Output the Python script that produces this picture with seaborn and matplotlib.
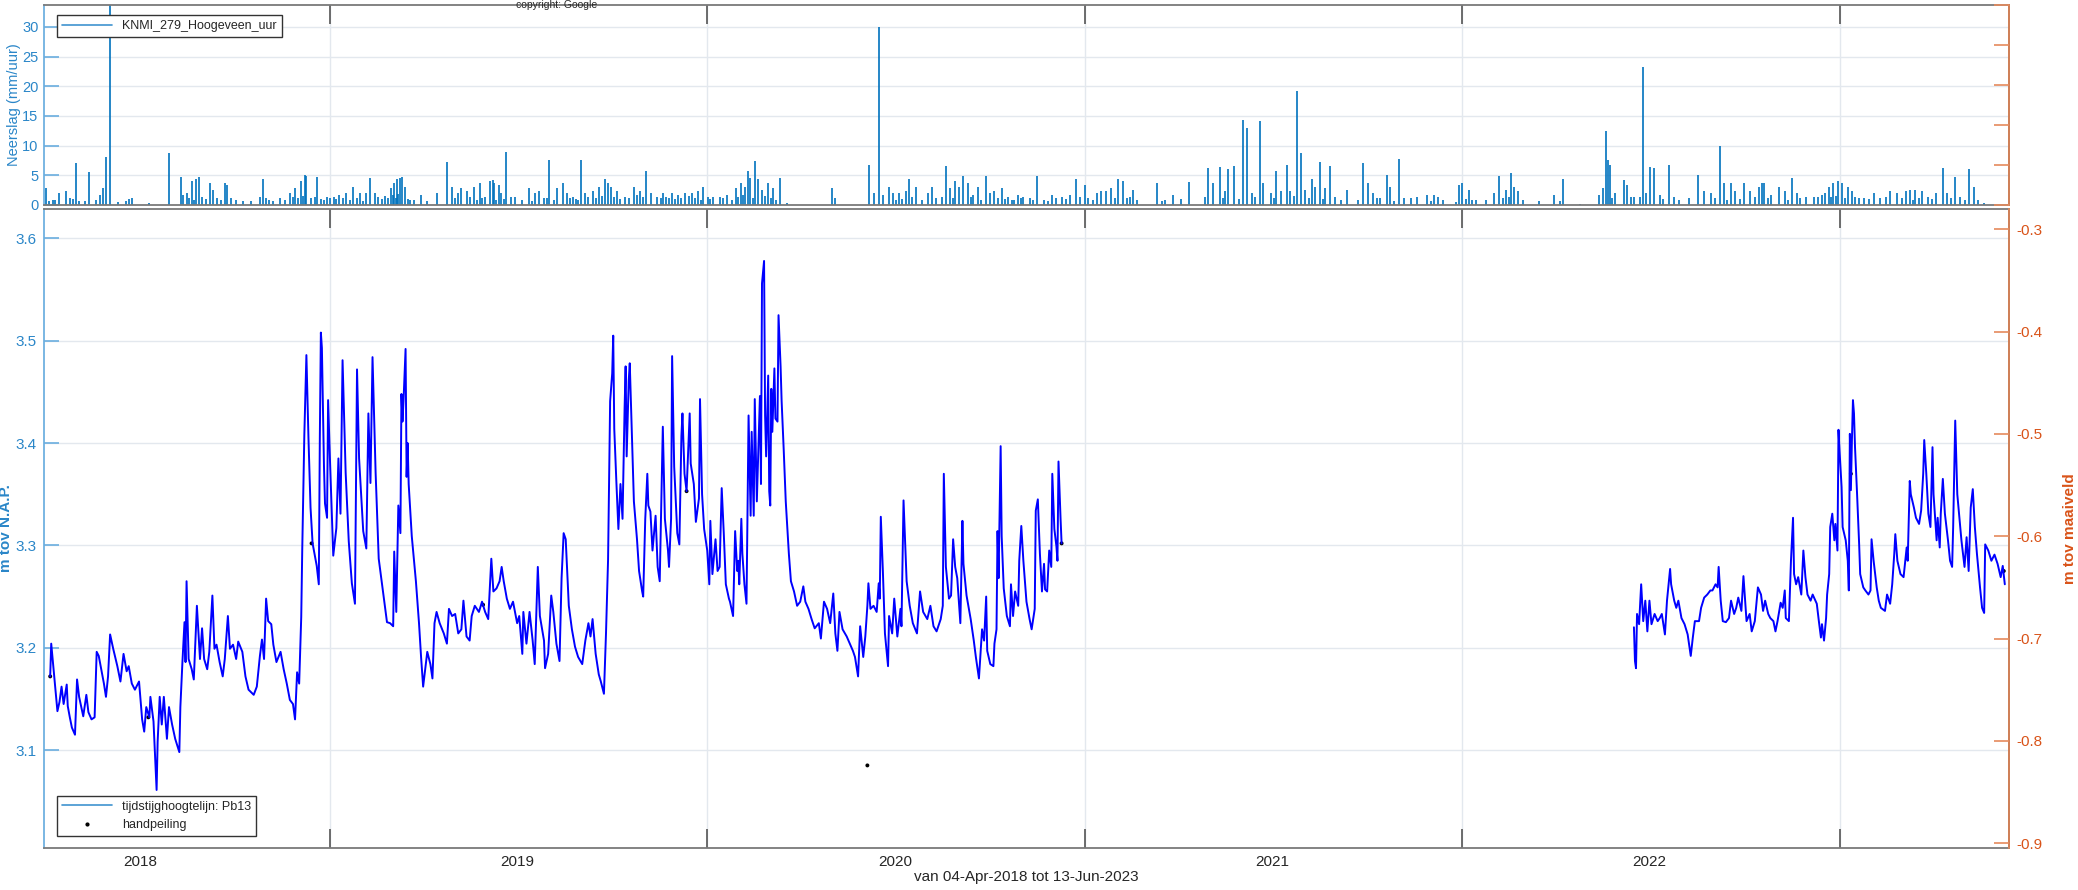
import numpy as np
import pandas as pd
import seaborn as sns
import matplotlib.pyplot as plt
import matplotlib.dates as mdates
from matplotlib.lines import Line2D
from matplotlib.ticker import NullFormatter

# dagnummers t.o.v. 1 jan 2018
start = pd.Timestamp('2018-01-01')

# tijdstijghoogtelijn Pb13 (m NAP), deel 1: apr 2018 - dec 2020
gw_dag_1 = [94, 95, 97, 101, 103, 105, 107, 110, 111, 113,
            115, 118, 120, 122, 126, 129, 131, 134, 137, 139,
            141, 146, 148, 150, 152, 155, 159, 162, 165, 168,
            170, 173, 176, 180, 183, 185, 187, 190, 191, 194,
            197, 198, 200, 202, 204, 207, 209, 212, 215, 219,
            220, 222, 224, 225, 226, 228, 231, 233, 236, 239,
            241, 243, 246, 248, 251, 253, 255, 258, 261, 263,
            266, 268, 271, 274, 276, 280, 283, 286, 291, 294,
            297, 299, 301, 303, 305, 308, 310, 313, 317, 320,
            323, 326, 329, 331, 333, 335, 337, 338, 340, 342,
            344, 346, 348, 352, 354, 355, 356, 357, 359, 360,
            362, 363, 365, 367, 368, 371, 373, 375, 377, 380,
            383, 386, 389, 391, 393, 397, 400, 402, 404, 406,
            409, 412, 416, 420,
            423, 426, 427, 429, 431, 433, 434, 435, 436, 438,
            439, 440, 441, 444, 448, 451, 453, 455, 459, 462,
            464, 466, 468, 471, 475, 478, 480, 483, 486, 489,
            492, 494, 497, 500, 502, 505, 509, 512, 515, 518,
            521, 523, 526, 529, 531, 533, 536, 539, 542, 546,
            548, 551, 552, 555, 558, 561, 563, 566, 568, 572,
            573, 576, 579, 581, 584, 587, 589, 591, 593, 596,
            599, 602, 605, 609, 612, 615, 617, 619, 622, 625,
            627, 630, 632, 634, 636, 638, 639, 640, 642, 644,
            646, 648, 650, 651, 652, 654, 655, 657, 659, 662,
            664, 667, 668, 670, 672, 673, 675, 677, 680, 682,
            684, 687, 689, 692, 693, 695, 696, 698, 701, 703,
            705, 706, 708, 710, 713, 714, 717, 719, 722, 723,
            725, 727, 730, 732, 733, 735, 738, 740, 742, 744,
            746, 748, 751,
            752, 755, 757, 759, 760, 761, 763, 764, 766, 768,
            770, 772, 773, 775, 776, 778, 781, 782, 783, 785,
            786, 787, 789, 790, 791, 792, 793, 795, 796, 798,
            799, 801, 802, 804, 806, 809, 811, 814, 817, 820,
            823, 825, 828, 831, 834, 838, 840, 843, 846, 849,
            852, 854, 856, 858, 861, 865, 868, 871, 873, 876,
            878, 881, 883, 885, 886, 888, 891, 894, 896, 897,
            898, 900, 902, 905, 906, 909, 911, 914, 917, 918,
            920, 923, 926, 929, 933, 936, 939, 943, 946, 949,
            952, 956, 958, 959, 961, 964, 966, 968, 970, 972,
            975, 977, 978, 981, 985, 988, 990, 993, 996, 998,
            1000, 1001, 1004, 1007, 1008, 1010, 1011, 1012, 1014, 1015,
            1017, 1020, 1023, 1024, 1026, 1028, 1031, 1032, 1034, 1036,
            1039, 1042, 1044, 1047, 1048, 1050, 1052, 1054, 1056, 1057,
            1059, 1061, 1063, 1064, 1066, 1068, 1069, 1070, 1072, 1073]
gw_nap_1 = [3.172, 3.204, 3.182, 3.138, 3.147, 3.162, 3.145, 3.164, 3.143, 3.132,
            3.122, 3.115, 3.169, 3.152, 3.133, 3.154, 3.137, 3.130, 3.132, 3.196,
            3.192, 3.165, 3.152, 3.172, 3.213, 3.199, 3.182, 3.167, 3.194, 3.177,
            3.182, 3.165, 3.159, 3.167, 3.130, 3.118, 3.142, 3.132, 3.152, 3.128,
            3.061, 3.108, 3.152, 3.125, 3.152, 3.111, 3.142, 3.125, 3.111, 3.098,
            3.142, 3.186, 3.225, 3.186, 3.265, 3.189, 3.179, 3.169, 3.241, 3.189,
            3.219, 3.189, 3.179, 3.196, 3.251, 3.199, 3.203, 3.186, 3.172, 3.189,
            3.231, 3.199, 3.203, 3.189, 3.206, 3.196, 3.172, 3.159, 3.154, 3.162,
            3.192, 3.208, 3.189, 3.248, 3.226, 3.223, 3.203, 3.186, 3.196, 3.179,
            3.165, 3.149, 3.145, 3.130, 3.176, 3.165, 3.230, 3.297, 3.408, 3.486,
            3.405, 3.337, 3.302, 3.280, 3.262, 3.405, 3.508, 3.493, 3.378, 3.341,
            3.327, 3.442, 3.378, 3.321, 3.290, 3.317, 3.385, 3.331, 3.481, 3.371,
            3.304, 3.263, 3.243, 3.472, 3.385, 3.314, 3.297, 3.429, 3.361, 3.484,
            3.371, 3.287, 3.256, 3.225,
            3.224, 3.221, 3.294, 3.235, 3.339, 3.312, 3.448, 3.421, 3.441, 3.492,
            3.367, 3.400, 3.360, 3.309, 3.265, 3.224, 3.191, 3.162, 3.196, 3.184,
            3.170, 3.224, 3.235, 3.224, 3.214, 3.204, 3.238, 3.231, 3.233, 3.214,
            3.218, 3.246, 3.211, 3.207, 3.231, 3.241, 3.235, 3.245, 3.235, 3.228,
            3.287, 3.255, 3.258, 3.265, 3.279, 3.265, 3.248, 3.238, 3.245, 3.224,
            3.231, 3.194, 3.235, 3.204, 3.235, 3.207, 3.184, 3.279, 3.231, 3.207,
            3.180, 3.194, 3.251, 3.235, 3.204, 3.187, 3.268, 3.312, 3.306, 3.241,
            3.218, 3.201, 3.191, 3.184, 3.207, 3.224, 3.211, 3.228, 3.194, 3.174,
            3.167, 3.155, 3.214, 3.286, 3.441, 3.468, 3.505, 3.414, 3.363, 3.316,
            3.360, 3.326, 3.434, 3.475, 3.387, 3.461, 3.478, 3.411, 3.343, 3.306,
            3.275, 3.255, 3.250, 3.326, 3.370, 3.339, 3.333, 3.295, 3.329, 3.279,
            3.265, 3.416, 3.326, 3.295, 3.279, 3.326, 3.485, 3.377, 3.312, 3.301,
            3.407, 3.429, 3.370, 3.353, 3.429, 3.380, 3.360, 3.323, 3.346, 3.443,
            3.350, 3.316, 3.295, 3.262, 3.324, 3.272, 3.306, 3.275, 3.279, 3.356,
            3.312, 3.262, 3.248,
            3.245, 3.231, 3.314, 3.275, 3.285, 3.262, 3.326, 3.292, 3.262, 3.243,
            3.427, 3.329, 3.411, 3.329, 3.443, 3.343, 3.446, 3.360, 3.556, 3.578,
            3.427, 3.387, 3.466, 3.353, 3.339, 3.453, 3.411, 3.473, 3.424, 3.421,
            3.525, 3.475, 3.441, 3.394, 3.343, 3.292, 3.265, 3.255, 3.241, 3.245,
            3.260, 3.245, 3.238, 3.228, 3.219, 3.224, 3.209, 3.245, 3.238, 3.224,
            3.253, 3.214, 3.197, 3.235, 3.218, 3.211, 3.204, 3.197, 3.191, 3.172,
            3.221, 3.191, 3.211, 3.241, 3.263, 3.238, 3.241, 3.235, 3.263, 3.248,
            3.328, 3.275, 3.214, 3.182, 3.231, 3.214, 3.248, 3.211, 3.238, 3.221,
            3.344, 3.265, 3.241, 3.224, 3.214, 3.255, 3.235, 3.228, 3.241, 3.221,
            3.216, 3.228, 3.241, 3.370, 3.279, 3.248, 3.251, 3.306, 3.279, 3.268,
            3.224, 3.324, 3.282, 3.251, 3.228, 3.207, 3.191, 3.170, 3.218, 3.207,
            3.250, 3.197, 3.184, 3.182, 3.204, 3.218, 3.314, 3.268, 3.397, 3.309,
            3.258, 3.231, 3.221, 3.262, 3.231, 3.255, 3.241, 3.285, 3.319, 3.285,
            3.245, 3.228, 3.218, 3.238, 3.334, 3.345, 3.292, 3.255, 3.282, 3.257,
            3.255, 3.295, 3.279, 3.370, 3.316, 3.299, 3.285, 3.382, 3.326, 3.302]

# deel 2: jun 2022 - jun 2023
gw_dag_2 = [1627, 1628, 1629, 1630, 1632, 1634, 1636, 1638, 1640, 1642,
            1644, 1647, 1650, 1652, 1654, 1657, 1659, 1662, 1663, 1666,
            1668, 1670, 1673, 1676, 1679, 1682, 1684, 1686, 1690, 1692,
            1695, 1698, 1701, 1703, 1706, 1708, 1709, 1711, 1713, 1716,
            1719, 1721, 1724, 1726, 1728, 1731, 1733, 1736, 1739, 1741,
            1744, 1747, 1750, 1752, 1754, 1757, 1759, 1762, 1764, 1766,
            1769, 1771, 1773, 1774, 1777, 1779, 1781, 1782, 1784, 1786,
            1789, 1791, 1793, 1795, 1798, 1800, 1804, 1806, 1808, 1809,
            1811, 1813, 1814, 1816, 1817, 1819, 1821, 1822, 1824, 1825,
            1826, 1828, 1829, 1832, 1834, 1835, 1836, 1837, 1838, 1839,
            1840, 1841, 1843, 1845, 1846, 1849, 1851, 1854, 1856, 1857,
            1859, 1862, 1864, 1866, 1870, 1872, 1875, 1877, 1879, 1880,
            1882, 1885, 1888, 1891, 1892, 1894, 1895, 1898, 1900, 1903,
            1905, 1907, 1908, 1910, 1912, 1914, 1916, 1917, 1920, 1921,
            1923, 1924, 1926, 1928, 1931, 1933, 1935, 1936, 1938, 1940,
            1942, 1944, 1947, 1949, 1951, 1953, 1955, 1957, 1959, 1962,
            1964, 1966, 1967, 1970, 1973, 1976, 1979, 1982, 1984, 1986]
gw_nap_2 = [3.220, 3.187, 3.180, 3.233, 3.223, 3.262, 3.226, 3.246, 3.216, 3.246,
            3.223, 3.233, 3.226, 3.229, 3.233, 3.213, 3.246, 3.277, 3.262, 3.246,
            3.239, 3.246, 3.229, 3.223, 3.213, 3.192, 3.210, 3.226, 3.226, 3.239,
            3.249, 3.252, 3.256, 3.256, 3.262, 3.259, 3.279, 3.246, 3.226, 3.225,
            3.229, 3.246, 3.233, 3.239, 3.249, 3.236, 3.270, 3.226, 3.233, 3.216,
            3.226, 3.259, 3.252, 3.236, 3.246, 3.233, 3.229, 3.226, 3.216, 3.226,
            3.244, 3.239, 3.256, 3.229, 3.226, 3.285, 3.327, 3.272, 3.262, 3.269,
            3.252, 3.295, 3.269, 3.252, 3.246, 3.252, 3.243, 3.226, 3.210, 3.223,
            3.207, 3.229, 3.252, 3.272, 3.318, 3.331, 3.305, 3.321, 3.295, 3.413,
            3.393, 3.357, 3.318, 3.305, 3.285, 3.256, 3.409, 3.354, 3.403, 3.442,
            3.429, 3.396, 3.350, 3.301, 3.272, 3.259, 3.256, 3.252, 3.256, 3.306,
            3.285, 3.259, 3.246, 3.239, 3.236, 3.252, 3.243, 3.262, 3.292, 3.311,
            3.285, 3.272, 3.269, 3.298, 3.285, 3.363, 3.350, 3.337, 3.327, 3.321,
            3.334, 3.370, 3.403, 3.370, 3.331, 3.318, 3.396, 3.350, 3.305, 3.327,
            3.298, 3.331, 3.365, 3.331, 3.305, 3.285, 3.279, 3.318, 3.422, 3.350,
            3.327, 3.305, 3.279, 3.308, 3.275, 3.337, 3.355, 3.318, 3.292, 3.259,
            3.239, 3.234, 3.301, 3.295, 3.285, 3.291, 3.282, 3.269, 3.280, 3.262]

# handpeilingen
hp_dag = [94, 189, 347, 513, 710, 885, 1073, 1837, 1985]
hp_nap = [3.172, 3.132, 3.302, 3.242, 3.353, 3.085, 3.302, 3.370, 3.275]

# neerslag KNMI 279 Hoogeveen (mm/uur)
rain_dag = [90, 93, 97, 103, 109, 113, 119, 122, 132, 138, 142, 145, 148, 152,
            167, 170, 173, 190, 209, 221, 223, 226, 231, 235, 238, 241, 249, 252,
            255, 263, 265, 274, 288, 297, 300, 303, 306, 316, 326, 331, 334, 337,
            341, 342, 350, 352, 356, 365, 369, 374, 380, 387, 394, 400, 404, 408,
            421, 424, 427, 430, 433, 435, 437, 442, 453, 468, 478, 483, 489, 492,
            497, 504, 510, 515, 520, 523, 524, 528, 530, 535, 544, 551, 557, 563,
            567, 572, 577, 585, 590, 594, 600, 608, 612, 619, 625, 631, 634, 637,
            643, 650, 659, 665, 671, 676, 681, 687, 693, 696, 702, 708, 715, 721,
            726, 736, 742, 749, 758, 763, 767, 769, 771, 776, 779, 783, 789, 794,
            800, 807, 851, 854, 887, 891, 896, 900, 906, 910, 916, 922, 925, 932,
            944, 948, 961, 965, 970, 974, 978, 982, 987, 992, 1000, 1004, 1008,
            1015, 1021, 1027, 1031, 1036, 1042, 1049,
            1056, 1064, 1068, 1073, 1081, 1087, 1091, 1096, 1107, 1111, 1116, 1121,
            1128, 1132, 1136, 1142, 1165, 1173, 1181, 1189, 1196, 1215, 1220, 1226,
            1231, 1234, 1240, 1249, 1252, 1257, 1265, 1268, 1276, 1281, 1285, 1291,
            1294, 1301, 1305, 1309, 1315, 1318, 1323, 1328, 1333, 1338, 1349, 1365,
            1370, 1374, 1381, 1388, 1391, 1400, 1404, 1411, 1417, 1427, 1433, 1437,
            1442, 1458, 1461, 1467, 1474, 1484, 1492, 1496, 1503, 1508, 1511, 1515,
            1535, 1550, 1558, 1575, 1593, 1597, 1600, 1602, 1604, 1609, 1617, 1620,
            1624, 1636, 1639, 1643, 1646, 1652, 1661, 1666, 1671, 1689, 1695, 1702,
            1710, 1714, 1721, 1725, 1734, 1739, 1748, 1751, 1753, 1760, 1767, 1773,
            1780, 1785, 1794, 1801, 1812, 1816, 1820, 1825, 1828, 1834, 1838, 1841,
            1850, 1859, 1865, 1875, 1882, 1890, 1894, 1899, 1906, 1912, 1919, 1926,
            1930, 1938, 1943, 1951, 1956, 1966]
rain_mm = [2.8, 0.6, 0.9, 2.0, 2.3, 1.1, 7.0, 0.6, 5.6, 0.9, 1.7, 2.8, 8.0, 34.5,
           0.6, 1.0, 1.1, 0.3, 8.8, 4.7, 1.7, 2.0, 4.0, 4.3, 4.7, 1.4, 3.7, 2.6,
           1.1, 3.7, 3.4, 0.9, 0.6, 1.4, 4.3, 1.1, 0.9, 1.1, 2.0, 2.8, 1.1, 4.0,
           5.0, 4.8, 1.4, 4.7, 1.0, 1.1, 1.4, 1.7, 2.0, 3.1, 2.0, 2.0, 4.6, 2.0,
           1.1, 2.8, 3.7, 4.3, 4.6, 4.7, 3.1, 0.9, 1.7, 2.0, 7.3, 3.1, 2.0, 2.8,
           2.3, 3.1, 3.7, 1.4, 4.0, 4.2, 3.7, 3.4, 2.0, 8.9, 1.4, 0.9, 2.8, 2.0,
           2.3, 1.1, 7.6, 2.8, 3.7, 2.0, 1.4, 7.5, 2.0, 2.3, 3.1, 4.3, 3.7, 3.1,
           2.3, 1.4, 3.1, 2.3, 5.7, 2.0, 1.4, 2.0, 1.1, 2.0, 1.7, 2.0, 2.0, 2.3,
           3.1, 1.4, 1.4, 1.7, 2.8, 3.7, 3.1, 5.7, 4.6, 7.4, 4.3, 2.6, 3.7, 2.8,
           4.6, 0.3, 2.8, 1.1, 6.8, 2.0, 30.0, 1.7, 3.1, 2.0, 2.0, 2.3, 4.3, 3.1,
           2.0, 3.1, 6.5, 2.8, 4.0, 3.1, 4.8, 3.7, 1.7, 3.1, 4.8, 2.0, 2.3,
           2.8, 1.4, 0.9, 1.7, 1.4, 1.1, 4.8,
           0.9, 1.7, 1.1, 1.4, 1.7, 4.3, 1.4, 3.4, 2.0, 2.3, 2.3, 2.8,
           4.3, 4.0, 1.1, 2.6, 3.7, 0.9, 1.7, 1.0, 3.8, 6.3, 3.7, 6.4,
           2.3, 6.1, 6.5, 14.4, 12.9, 2.0, 14.1, 3.7, 2.0, 5.8, 2.3, 6.8,
           2.3, 19.2, 8.7, 2.6, 4.3, 3.1, 7.2, 2.8, 6.5, 1.4, 2.6, 7.0,
           3.7, 2.0, 1.1, 5.0, 3.1, 7.7, 1.1, 1.1, 1.4, 1.7, 1.7, 1.4,
           0.9, 3.4, 3.7, 2.6, 0.9, 0.9, 2.0, 4.8, 2.6, 5.4, 3.1, 2.3,
           0.6, 1.7, 4.4, 0.2, 1.7, 2.8, 12.4, 7.5, 6.7, 2.0, 4.2, 3.4,
           1.4, 23.2, 2.0, 6.4, 6.3, 1.7, 6.8, 1.4, 0.9, 5.0, 2.3, 2.0,
           9.9, 3.7, 3.7, 2.3, 3.7, 2.3, 3.1, 3.7, 3.7, 1.7, 3.1, 2.3,
           4.6, 2.0, 1.4, 1.4, 2.0, 3.1, 3.7, 4.1, 3.7, 3.1, 2.3, 1.4,
           1.1, 2.0, 1.1, 2.3, 2.0, 2.3, 2.6, 2.6, 2.3, 1.4, 2.0, 6.2,
           2.0, 4.7, 1.4, 6.0, 3.1, 0.3]

# kleine buien (de 'mat' onderin het neerslagpaneel)
mat_dag = [99, 116, 128, 160, 228, 233, 245, 259, 269, 281, 310, 321, 329, 339, 346,
           359, 362, 371, 377, 384, 391, 397, 411, 415, 418, 426, 429, 431, 440, 446,
           459, 486, 500, 507, 512, 526, 533, 540, 560, 575, 582, 597, 603, 605, 615,
           622, 628, 640, 646, 654, 662, 668, 685, 690, 699, 705, 712, 718, 724, 731,
           733, 745, 754, 760, 765, 774, 786, 792, 797, 913, 919, 928, 938, 951, 957,
           968, 985, 995, 1011, 1018, 1025, 1034, 1045, 1060, 1077, 1099, 1103, 1125,
           1139, 1146, 1170, 1212, 1229, 1245, 1260, 1279, 1298, 1312, 1326, 1343,
           1360, 1378, 1395, 1431, 1455, 1464, 1470, 1500, 1506, 1520, 1555, 1606,
           1627, 1633, 1655, 1680, 1705, 1717, 1730, 1744, 1757, 1776, 1788, 1805,
           1809, 1818, 1823, 1831, 1845, 1855, 1871, 1886, 1897, 1903, 1916, 1934,
           1947, 1960]
mat_mm = [0.8, 1.0, 0.7, 0.5, 1.2, 0.9, 1.0, 0.8, 1.1, 0.6, 0.7, 0.9, 1.3, 1.5, 1.2,
          0.8, 1.4, 1.0, 1.2, 0.9, 1.1, 0.7, 1.3, 1.0, 1.5, 1.6, 1.2, 1.8, 1.0, 0.8,
          0.6, 1.1, 1.4, 0.9, 1.2, 0.8, 1.0, 1.3, 0.7, 1.1, 0.9, 1.2, 1.0, 0.8, 1.4,
          1.1, 1.5, 1.3, 1.0, 1.2, 1.6, 1.4, 1.1, 1.3, 1.0, 1.2, 1.5, 1.1, 0.9, 1.3,
          1.0, 1.2, 0.8, 1.4, 1.6, 1.2, 1.5, 1.1, 0.9, 0.8, 1.0, 1.3, 0.9, 1.2, 1.4,
          1.1, 1.3, 0.9, 1.2, 1.0, 0.8, 1.1, 0.9, 0.7, 1.0, 1.2, 0.9, 1.1, 1.3, 0.8,
          0.6, 1.4, 1.2, 1.0, 1.3, 1.1, 1.5, 1.2, 1.0, 0.8, 0.9, 1.1, 0.7, 0.6, 0.5,
          1.0, 0.8, 1.2, 1.3, 0.9, 0.6, 1.1, 1.4, 1.3, 1.0, 1.2, 1.1, 0.9, 1.0, 1.3,
          1.1, 0.8, 1.2, 1.4, 1.6, 1.3, 1.5, 1.1, 1.2, 1.0, 1.3, 1.1, 0.9, 1.2, 1.0,
          1.1, 0.8, 0.9]

maaiveld = 3.909  # m NAP

gw = pd.DataFrame({
    'datum': start + pd.to_timedelta(gw_dag_1 + gw_dag_2, unit='D'),
    'stijghoogte': gw_nap_1 + gw_nap_2,
    'deel': [1] * len(gw_dag_1) + [2] * len(gw_dag_2),
})
hp = pd.DataFrame({'datum': start + pd.to_timedelta(hp_dag, unit='D'), 'stijghoogte': hp_nap})
rain_datum = start + pd.to_timedelta(rain_dag + mat_dag, unit='D')
rain_waarde = rain_mm + mat_mm

blauw = '#2a86c8'
blauw_as = '#6aaedf'
oranje = '#D95319'
oranje_as = '#e58a5c'
grid_kl = '#e3e8ee'
grijs = '#7a7a7a'

sns.set_theme(style='white')
plt.rcParams['font.family'] = ['Liberation Sans', 'DejaVu Sans']

fig = plt.figure(figsize=(20.78, 8.9), dpi=100)
ax_r = fig.add_axes([0.02117, 0.7697, 0.9456, 0.2247])
ax = fig.add_axes([0.02117, 0.0472, 0.9456, 0.7180])

xmin = start + pd.Timedelta(days=88)
xmax = start + pd.Timedelta(days=1990)

# --- neerslag ---
ax_r.vlines(rain_datum, 0, rain_waarde, color='#0072BD', lw=1.2)
ax_r.set_xlim(xmin, xmax)
ax_r.set_ylim(0, 33.7)
ax_r.set_yticks(np.arange(0, 31, 5))
ax_r.set_ylabel('Neerslag (mm/uur)', color=blauw, fontsize=10.5)
ax_r.yaxis.set_label_coords(-0.0117, 0.5)
ax_r.xaxis.set_major_locator(mdates.YearLocator())
ax_r.xaxis.set_major_formatter(NullFormatter())
ax_r.tick_params(axis='x', direction='in', top=True, bottom=False, length=14, width=1.2, color='#555555')
ax_r.tick_params(axis='y', direction='in', left=True, right=True, length=11, width=1.2,
                 color=blauw_as, labelcolor=blauw, labelsize=10.5, pad=4)
ax_r.grid(True, color=grid_kl, lw=1)
ax_r.spines['left'].set_color(blauw_as)
for s in ['top', 'bottom']:
    ax_r.spines[s].set_color(grijs)
    ax_r.spines[s].set_linewidth(1.3)
ax_r.legend(handles=[Line2D([0], [0], color='#3f93d0', lw=1.2)], labels=['KNMI_279_Hoogeveen_uur'],
            loc='upper left', bbox_to_anchor=(0.0066, 0.95), borderaxespad=0, fontsize=9,
            frameon=True, fancybox=False, edgecolor='#333333', framealpha=1, handlelength=4)

ax_r2 = ax_r.twinx()
ax_r2.set_ylim(0, 1)
ax_r2.set_yticks(np.arange(0, 1.01, 0.2))
ax_r2.yaxis.set_major_formatter(NullFormatter())
ax_r2.tick_params(axis='y', direction='in', right=True, length=11, width=1.2, color=oranje_as)
ax_r2.spines['right'].set_color(oranje_as)
for s in ['top', 'bottom', 'left']:
    ax_r2.spines[s].set_visible(False)

# --- stijghoogte ---
sns.lineplot(data=gw, x='datum', y='stijghoogte', units='deel', estimator=None, sort=False,
             color='#0000ff', lw=1.4, ax=ax, legend=False)
sns.scatterplot(data=hp, x='datum', y='stijghoogte', color='black', s=8, edgecolor='none', ax=ax, legend=False)
ax.set_xlim(xmin, xmax)
ax.set_ylim(3.0043, 3.6288)
ax.set_yticks([3.1, 3.2, 3.3, 3.4, 3.5, 3.6])
ax.set_xlabel('')
ax.set_ylabel('m tov N.A.P.', color=blauw, fontsize=11, fontweight='bold')
ax.yaxis.set_label_coords(-0.0158, 0.5)
ax.xaxis.set_major_locator(mdates.YearLocator())
ax.xaxis.set_major_formatter(NullFormatter())
ax.xaxis.set_minor_locator(mdates.MonthLocator(bymonth=7, bymonthday=1))
ax.xaxis.set_minor_formatter(mdates.DateFormatter('%Y'))
ax.tick_params(axis='x', which='major', direction='in', top=True, bottom=True, length=14, width=1.2, color='#555555')
ax.tick_params(axis='x', which='minor', length=0, labelsize=11, pad=5, labelcolor='#262626')
ax.tick_params(axis='y', direction='in', left=True, right=True, length=11, width=1.2,
               color=blauw_as, labelcolor=blauw, labelsize=11, pad=5)
ax.grid(True, which='major', color=grid_kl, lw=1)
ax.spines['left'].set_color(blauw_as)
for s in ['top', 'bottom']:
    ax.spines[s].set_color(grijs)
    ax.spines[s].set_linewidth(1.3)

ax2 = ax.twinx()
ax2.set_ylim(3.0043 - maaiveld, 3.6288 - maaiveld)
ax2.set_yticks([-0.9, -0.8, -0.7, -0.6, -0.5, -0.4, -0.3])
ax2.set_yticklabels(['-0.9', '-0.8', '-0.7', '-0.6', '-0.5', '-0.4', '-0.3'])
ax2.tick_params(axis='y', direction='in', right=True, length=11, width=1.2,
                color=oranje_as, labelcolor=oranje, labelsize=11, pad=5)
ax2.set_ylabel('m tov maaiveld', color=oranje, fontsize=11, fontweight='bold')
ax2.yaxis.set_label_coords(1.0275, 0.5)
ax2.spines['right'].set_color(oranje_as)
for s in ['top', 'bottom', 'left']:
    ax2.spines[s].set_visible(False)

handles = [Line2D([0], [0], color='#3f93d0', lw=1.2),
           Line2D([0], [0], color='black', marker='.', ms=4, lw=0)]
ax2.legend(handles=handles, labels=['tijdstijghoogtelijn: Pb13', 'handpeiling'],
           loc='lower left', bbox_to_anchor=(0.0066, 0.0188), borderaxespad=0, fontsize=9,
           frameon=True, fancybox=False, edgecolor='#333333', framealpha=1, handlelength=4)

fig.text(0.494, 1 - 877 / 890, 'van 04-Apr-2018 tot 13-Jun-2023', ha='center', va='center',
         fontsize=11, color='#262626')
fig.text(0.268, 0.9995, 'copyright: Google', ha='center', va='top', fontsize=7.5, color='#262626')

fig.savefig('out.png', dpi=100)
plt.close(fig)
